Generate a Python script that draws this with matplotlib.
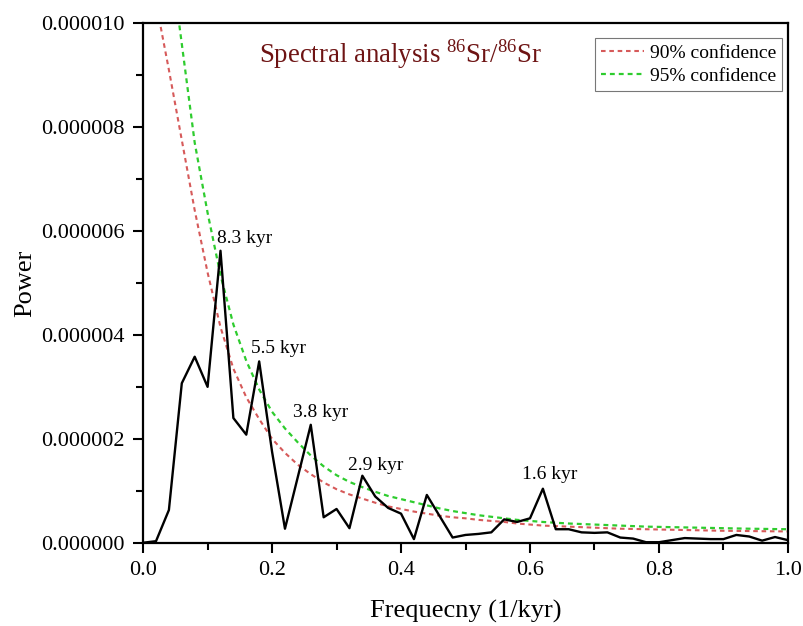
import numpy as np
import matplotlib
matplotlib.use('Agg')
import matplotlib.pyplot as plt
from matplotlib.ticker import MultipleLocator, FormatStrFormatter

plt.rcParams['font.family'] = ['Liberation Serif', 'DejaVu Serif']
plt.rcParams['mathtext.fontset'] = 'custom'
plt.rcParams['mathtext.rm'] = 'Liberation Serif'

# 频率 (1/kyr)
freq = [0.00, 0.02, 0.04, 0.06, 0.08, 0.10, 0.12, 0.14, 0.16, 0.18,
        0.20, 0.22, 0.24, 0.26, 0.28, 0.30, 0.32, 0.34, 0.36, 0.38,
        0.40, 0.42, 0.44, 0.46, 0.48, 0.50, 0.52, 0.54, 0.56, 0.58,
        0.60, 0.62, 0.64, 0.66, 0.68, 0.70, 0.72, 0.74, 0.76, 0.78,
        0.80, 0.82, 0.84, 0.86, 0.88, 0.90, 0.92, 0.94, 0.96, 0.98, 1.00]
# 功率谱 (x1e-6)
power = [0.0, 0.03, 0.63, 3.07, 3.58, 3.0, 5.62, 2.4, 2.08, 3.49,
         1.75, 0.27, 1.27, 2.27, 0.49, 0.65, 0.28, 1.29, 0.89, 0.67,
         0.56, 0.07, 0.92, 0.51, 0.10, 0.15, 0.17, 0.20, 0.45, 0.40,
         0.47, 1.04, 0.26, 0.26, 0.20, 0.19, 0.20, 0.10, 0.08, 0.01,
         0.01, 0.05, 0.09, 0.08, 0.07, 0.07, 0.15, 0.12, 0.04, 0.11, 0.05]

# 置信线 (x1e-6)
conf_freq = freq[1:]
conf90 = [10.4, 9.1, 7.75, 6.4, 5.2, 4.15, 3.35, 2.8, 2.38,
          2.0, 1.73, 1.50, 1.32, 1.16, 1.03, 0.93, 0.85, 0.77, 0.70,
          0.65, 0.60, 0.56, 0.52, 0.49, 0.47, 0.44, 0.42, 0.40, 0.37,
          0.35, 0.33, 0.32, 0.31, 0.30, 0.29, 0.28, 0.27, 0.265, 0.26,
          0.255, 0.25, 0.245, 0.24, 0.235, 0.23, 0.228, 0.225, 0.222, 0.22, 0.218]
conf95 = [13.5, 11.5, 9.6, 7.7, 6.35, 5.15, 4.2, 3.5, 2.95,
          2.52, 2.2, 1.93, 1.68, 1.47, 1.30, 1.17, 1.07, 0.98, 0.90,
          0.84, 0.78, 0.72, 0.66, 0.61, 0.57, 0.53, 0.50, 0.47, 0.44,
          0.42, 0.40, 0.385, 0.37, 0.36, 0.35, 0.34, 0.33, 0.32, 0.31,
          0.305, 0.30, 0.295, 0.29, 0.285, 0.28, 0.275, 0.27, 0.267, 0.263, 0.26]

# 周期标注
peak_labels = ['8.3 kyr', '5.5 kyr', '3.8 kyr', '2.9 kyr', '1.6 kyr']
peak_x = [0.158, 0.21, 0.276, 0.36, 0.63]
peak_y = [5.85, 3.73, 2.5, 1.49, 1.31]

scale = 1e-6
fig = plt.figure(figsize=(8.04, 6.26), dpi=100)
ax = fig.add_axes([0.178, 0.133, 0.802, 0.830])

ax.plot(conf_freq, np.array(conf90) * scale, color='#D65A5A', lw=1.5,
        linestyle=(0, (2.2, 1.8)), label='90% confidence')
ax.plot(conf_freq, np.array(conf95) * scale, color='#2ECC2E', lw=1.6,
        linestyle=(0, (2.2, 1.8)), label='95% confidence')
ax.plot(freq, np.array(power) * scale, color='black', lw=1.7)

for lab, x, y in zip(peak_labels, peak_x, peak_y):
    ax.text(x, y * scale, lab, ha='center', va='center', fontsize=14)

ax.text(0.40, 0.940, 'Spectral analysis $^{86}$Sr/$^{86}$Sr', transform=ax.transAxes,
        ha='center', va='center', fontsize=19.3, color='#6E1414')

ax.set_xlim(0, 1.0)
ax.set_ylim(0, 1e-5)
ax.xaxis.set_major_locator(MultipleLocator(0.2))
ax.xaxis.set_minor_locator(MultipleLocator(0.1))
ax.yaxis.set_major_locator(MultipleLocator(2e-6))
ax.yaxis.set_minor_locator(MultipleLocator(1e-6))
ax.xaxis.set_major_formatter(FormatStrFormatter('%.1f'))
ax.yaxis.set_major_formatter(FormatStrFormatter('%.6f'))
ax.tick_params(which='major', direction='out', length=7.5, width=1.5, labelsize=16, pad=6)
ax.tick_params(which='minor', direction='out', length=5, width=1.5)
ax.tick_params(top=False, right=False, which='both')
for sp in ax.spines.values():
    sp.set_linewidth(1.6)

ax.set_xlabel('Frequecny (1/kyr)', fontsize=19, labelpad=14)
ax.set_ylabel('Power', fontsize=19, labelpad=3)

leg = ax.legend(loc='upper right', bbox_to_anchor=(0.9907, 0.971), fontsize=14,
                frameon=True, fancybox=False, handlelength=2.2, handletextpad=0.3,
                borderpad=0.3, labelspacing=0.3, borderaxespad=0.0)
leg.get_frame().set_edgecolor('#555555')
leg.get_frame().set_linewidth(0.8)

fig.savefig('out.png', dpi=100)
